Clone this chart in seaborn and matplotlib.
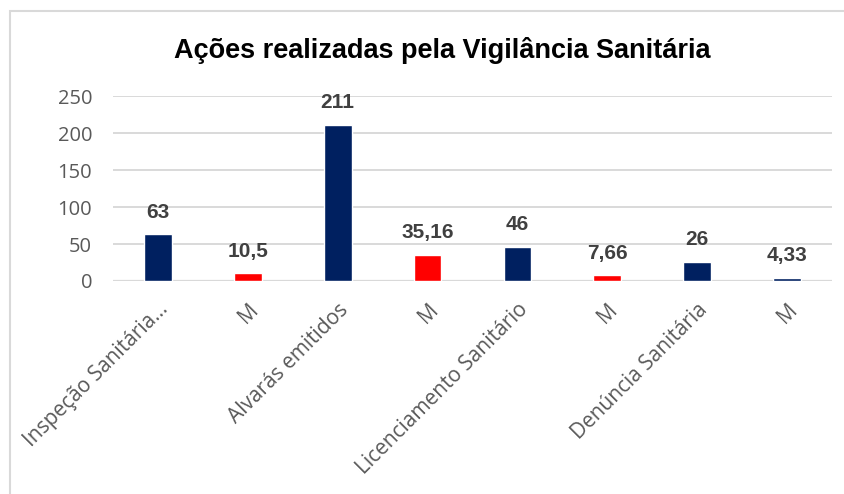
import numpy as np
import pandas as pd
import matplotlib
matplotlib.use("Agg")
import matplotlib.pyplot as plt
import seaborn as sns
from matplotlib.patches import Rectangle
from matplotlib.transforms import ScaledTranslation

labels = ["Inspeção Sanitária...", "M", "Alvarás emitidos", "M",
          "Licenciamento Sanitário", "M", "Denúncia Sanitária", "M"]
values = [63, 10.5, 211, 35.16, 46, 7.66, 26, 4.33]
value_text = ["63", "10,5", "211", "35,16", "46", "7,66", "26", "4,33"]
bar_colors = ["#002060", "#FF0000", "#002060", "#FF0000",
              "#002060", "#FF0000", "#002060", "#002060"]
y_ticks = [0, 50, 100, 150, 200, 250]

df = pd.DataFrame({"pos": [str(i) for i in range(len(labels))], "valor": values})

sns.set_style("white")
fig = plt.figure(figsize=(8.45, 4.94), dpi=100)
ax = fig.add_axes([113 / 845, 1 - 281 / 494, (832 - 113) / 845, (281 - 96) / 494])

sns.barplot(data=df, x="pos", y="valor", hue="pos", palette=bar_colors,
            dodge=False, legend=False, width=0.31, ax=ax, saturation=1)

ax.set_ylim(0, 250)
ax.set_xlim(-0.5, len(labels) - 0.5)
ax.set_yticks(y_ticks)
ax.yaxis.grid(True, color="#D9D9D9", linewidth=1.4)
ax.set_axisbelow(True)
for s in ax.spines.values():
    s.set_visible(False)
ax.axhline(0, color="#D9D9D9", linewidth=1.6, zorder=0.5)

ax.set_xlabel("")
ax.set_ylabel("")
ax.set_xticks(range(len(labels)))
ax.set_xticklabels(labels, rotation=45, ha="right", va="top", rotation_mode="anchor",
                   fontsize=15, color="#595959", family="Open Sans")
shift = ScaledTranslation(2 / 100, 0, fig.dpi_scale_trans)
for t in ax.get_xticklabels():
    t.set_transform(t.get_transform() + shift)
ax.tick_params(axis="x", length=0, pad=13)
ax.tick_params(axis="y", length=0, pad=15, labelsize=14.5, labelcolor="#595959")
for t in ax.get_yticklabels():
    t.set_family("Open Sans")

for cont, txt in zip(ax.containers, value_text):
    ax.bar_label(cont, labels=[txt], padding=9, fontsize=15, fontweight="bold",
                 color="#404040", family="Liberation Sans")

fig.text(442 / 845, 1 - 50 / 494, "Ações realizadas pela Vigilância Sanitária",
         ha="center", va="center", fontsize=19.5, fontweight="bold",
         family="Liberation Sans", color="black")

fig.patches.append(Rectangle((10 / 845, -0.1), 1.2, 1 - 11 / 494 + 0.1,
                             transform=fig.transFigure, fill=False,
                             edgecolor="#D9D9D9", linewidth=1.5))

fig.savefig("out.png", dpi=100)
